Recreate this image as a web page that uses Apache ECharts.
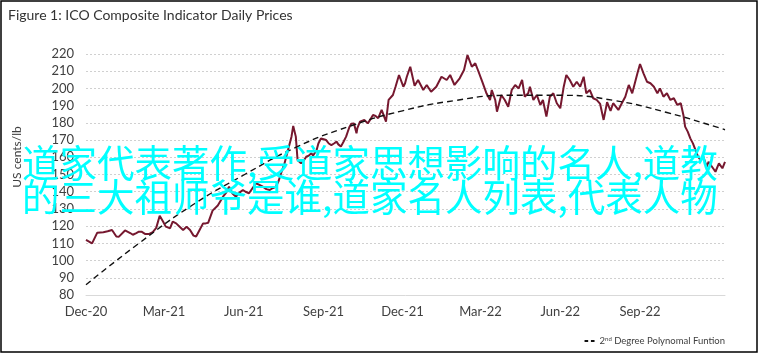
<!DOCTYPE html>
<html><head><meta charset="utf-8">
<script src="https://cdn.jsdelivr.net/npm/echarts@6/dist/echarts.min.js"></script>
<style>html,body{margin:0;padding:0;background:#fff}#c{width:762px;height:356px}</style>
</head><body><div id="c"></div>
<script>
const titleText = 'Figure 1: ICO Composite Indicator Daily Prices';
const yAxisTitle = 'US cents/lb';
const startDate = '2020-12-01';
const tickDates = ['2020-12-01','2021-03-01','2021-06-01','2021-09-01','2021-12-01','2022-03-01','2022-06-01','2022-09-01'];
const tickLabels = ['Dec-20','Mar-21','Jun-21','Sep-21','Dec-21','Mar-22','Jun-22','Sep-22'];
const lastDay = 737;
// days since startDate
const priceDay = [0,7,13,20,25,30,35,38,45,47,51,54,58,61,64,68,73,77,81,85,89,92,97,100,104,108,112,116,120,124,127,131,135,138,141,146,152,158,161,165,169,173,177,181,184,188,192,196,200,204,208,212,215,219,222,225,229,233,237,239,242,244,248,251,254,257,260,262,266,268,271,274,277,280,283,286,289,291,294,297,300,302,304,306,309,312,313,316,318,321,325,328,331,334,337,341,346,349,354,357,361,366,368,370,374,379,383,389,393,398,404,410,416,420,425,431,436,440,445,449,452,457,462,466,468,472,474,479,483,487,491,495,499,503,506,510,512,516,520,524,527,531,535,539,543,547,551,554,558,562,566,570,574,577,581,585,589,593,597,601,605,608,614,618,622,626,630,633,636,639,643,647,651,655,659,662,666,670,674,678,682,686,689,691,694,697,700,703,706,709,712,716,718,722,726,730,734,737];
const priceValue = [112,110,116.2,116.5,117,117.8,114,113.9,117.5,117,116,115,116,116.8,116.8,115.5,115.5,116.5,119,126,122.6,119.7,118.8,122.6,121.6,119.7,117.8,119.7,117.8,114.5,114,117.8,121.6,121.6,122,129,132,137.1,139,142.9,139,137.1,139.5,141,140,139.1,142,144.9,144,142.9,141.5,141,142,142.9,146,150.7,156.5,164.2,172,178.2,172,158.4,156.5,158,160.3,161,162.3,161,164.2,168,171,170.5,170,168,167.1,168,169.1,167.5,166.2,169,172,175,177.8,179.5,179.7,173.9,177,180.7,181,181.7,179.7,182,184.6,184,182.7,187.5,180.7,193.3,196.2,201,207.8,201,203,206.8,212.6,201.5,204.9,199.1,202,198.1,201,206.8,204.9,207.8,202,205.9,210.7,219.4,212.6,214.6,210.7,204,197,193.3,199.1,193.3,186.5,196.2,193.3,189.4,199.1,202,200,204.9,195.2,197.2,201,193.3,196.2,190.4,193.3,183.6,195.2,197.2,191.4,188.5,201,207.8,204.9,201,203.9,201,206.8,197.2,199.1,194.3,193.3,191,181.7,192,187,191.4,187.5,191.4,195.2,202,197.2,203,208.8,214.2,208.8,203.9,203,201,197.2,200,195.2,197.2,193.3,194.3,190.4,191.4,184.6,177.8,174.9,171,168.1,164.2,160.3,158.4,160.3,154.5,157.4,154.5,151.6,156.5,153.6,157.4];
const trendDay = [0,61,122,183,243,304,365,426,487,548,609,670,731,737];
const trendValue = [86,110,132,150,166,178,187,193,196,196,193,186,177,176];
const priceName = 'ICO Composite Indicator';
const trendName = '2nd Degree Polynomal Funtion';
const overlayLines = ['道家代表著作,受道家思想影响的名人,道教', '的三大祖师爷是谁,道家名人列表,代表人物'];

const baseFont = 'Lato, "Open Sans", sans-serif';
const t0 = Date.parse(startDate);
const tickDays = tickDates.map(d => Math.round((Date.parse(d) - t0) / 864e5));
const priceData = priceDay.map((d, i) => [d, priceValue[i]]);
const trendData = trendDay.map((d, i) => [d, trendValue[i]]);

const chart = echarts.init(document.getElementById('c'), null, {renderer: 'canvas'});
chart.setOption({
  backgroundColor: '#fff',
  animation: false,
  grid: {left: 86, right: 37, top: 54, bottom: 61, containLabel: false},
  xAxis: {
    type: 'value', min: 0, max: lastDay,
    axisLine: {show: true, lineStyle: {color: '#d9d9d9', width: 1}},
    axisTick: {show: false},
    splitLine: {show: false},
    axisLabel: {
      customValues: tickDays,
      color: '#404040', fontSize: 13, fontFamily: baseFont, margin: 10,
      formatter: v => { const k = tickDays.indexOf(Math.round(v)); return k >= 0 ? tickLabels[k] : ''; }
    }
  },
  yAxis: {
    type: 'value', min: 80, max: 220, interval: 10,
    axisLine: {show: false}, axisTick: {show: false},
    splitLine: {lineStyle: {color: '#d0d0d0', type: [2, 2], width: 1}},
    axisLabel: {color: '#404040', fontSize: 13, fontFamily: baseFont, margin: 12}
  },
  legend: {
    data: [{name: trendName, icon: 'path://M0,0h4v2h-4z M7,0h4v2h-4z'}], right: 32, top: 331,
    itemWidth: 10, itemHeight: 2, itemGap: 4,
    textStyle: {fontSize: 9.5, color: '#404040', fontFamily: baseFont,
      rich: {b: {fontSize: 9.5, color: '#404040', fontFamily: baseFont}, sup: {fontSize: 6, color: '#404040', verticalAlign: 'top', fontFamily: baseFont}}},
    formatter: n => n.replace(/^(\d)(nd)(.*)$/, '{b|$1}{sup|$2}{b|$3}')
  },
  series: [
    {name: priceName, type: 'line', data: priceData, symbol: 'none',
     lineStyle: {color: '#76182f', width: 2}, itemStyle: {color: '#76182f'}, z: 3},
    {name: trendName, type: 'line', data: trendData, symbol: 'none', smooth: true,
     lineStyle: {color: '#111', width: 1.4, type: [6, 4]}, itemStyle: {color: '#111'}, z: 4}
  ],
  graphic: [
    {type: 'rect', shape: {x: 1, y: 1, width: 756, height: 351}, style: {fill: 'none', stroke: '#000', lineWidth: 1.5}, z: 100},
    {type: 'text', left: 8, top: 8, style: {text: titleText, fontSize: 14, fill: '#333', fontFamily: baseFont}},
    {type: 'text', x: 17, y: 157, rotation: Math.PI / 2, style: {text: yAxisTitle, fontSize: 12, fill: '#404040', fontFamily: baseFont, align: 'center', verticalAlign: 'middle'}},
    {type: 'text', x: 22, y: 163, z: 200, style: {text: overlayLines[0], fontSize: 37.5, fill: '#00ffff', fontFamily: '"Noto Sans CJK SC", sans-serif', verticalAlign: 'middle'}},
    {type: 'text', x: 22, y: 197, z: 200, style: {text: overlayLines[1], fontSize: 37.5, fill: '#00ffff', fontFamily: '"Noto Sans CJK SC", sans-serif', verticalAlign: 'middle'}}
  ]
});
</script></body></html>
